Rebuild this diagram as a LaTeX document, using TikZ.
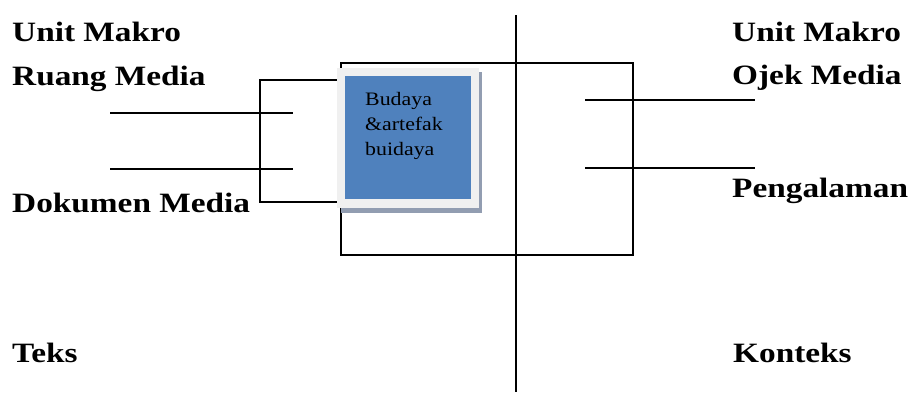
\documentclass[tikz,border=0pt]{standalone}
\usepackage{fontspec}
\setmainfont{Liberation Serif}
\newfontfamily\lblfont[FakeStretch=1.19]{Liberation Serif}
\newfontfamily\boxfont[FakeStretch=1.15]{Liberation Serif}
\definecolor{boxblue}{HTML}{4F81BD}
\definecolor{boxrim}{HTML}{F0F0F0}
\definecolor{boxshadow}{HTML}{929DB1}
\begin{document}
\begin{tikzpicture}[x=1pt,y=-1pt,
  lbl/.style={anchor=base west,inner sep=0pt,font=\lblfont\fontsize{28}{30}\selectfont\bfseries},
  ln/.style={line width=1.4pt,black}]
\useasboundingbox (0,0) rectangle (914,394);
% axis
\coordinate (vt) at (516,15);
\coordinate (vb) at (516,392);
\draw[ln] (vt) -- (vb);
% big rectangle
\coordinate (r1) at (341,63);
\coordinate (r2) at (633,255);
\draw[ln] (r1) rectangle (r2);
% bracket
\coordinate (bt) at (260,80);
\coordinate (bb) at (260,202);
\draw[ln] (338,80) -- (bt) -- (bb) -- (338,202);
% shadow, rim and blue box
\fill[boxshadow] (341,72) rectangle (482,213);
\fill[boxrim] (337,68) rectangle (479,208);
\node[fill=boxblue,minimum width=126pt,minimum height=123pt,inner sep=0pt,anchor=north west] (box) at (345,76) {};
\node[anchor=base west,inner sep=0pt,align=left,font=\boxfont\fontsize{19}{25}\selectfont] (boxtxt) at (365,155) {Budaya\\\&artefak\\buidaya};
% left lines
\coordinate (l1a) at (110,113); \coordinate (l1b) at (293,113);
\coordinate (l2a) at (110,169); \coordinate (l2b) at (293,169);
\draw[ln] (l1a) -- (l1b);
\draw[ln] (l2a) -- (l2b);
% right lines
\coordinate (r1a) at (585,100); \coordinate (r1b) at (755,100);
\coordinate (r2a) at (585,168); \coordinate (r2b) at (755,168);
\draw[ln] (r1a) -- (r1b);
\draw[ln] (r2a) -- (r2b);
% labels
\node[lbl] (ul) at (12,41) {Unit Makro};
\node[lbl] (rm) at (12,85) {Ruang Media};
\node[lbl] (dm) at (12,212) {Dokumen Media};
\node[lbl] (tk) at (12,362) {Teks};
\node[lbl] (ur) at (732,41) {Unit Makro};
\node[lbl] (om) at (732,84) {Ojek Media};
\node[lbl] (pg) at (732,197) {Pengalaman};
\node[lbl] (kt) at (733,362) {Konteks};
\end{tikzpicture}
\end{document}
